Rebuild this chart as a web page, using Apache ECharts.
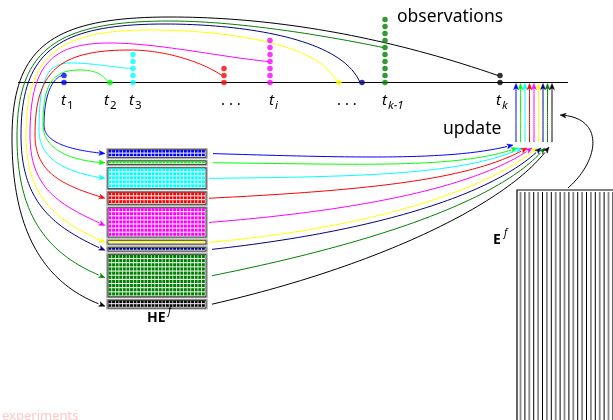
<!DOCTYPE html>
<html><head><meta charset="utf-8">
<script src="https://cdn.jsdelivr.net/npm/echarts@6/dist/echarts.min.js"></script>
<style>html,body{margin:0;padding:0;background:#fff}#c{width:613px;height:420px}</style>
</head><body><div id="c"></div>
<script>
// ---------------- data ----------------
const obsColors = ['#0000ff','#00ff00','#00ffff','#ff0000','#ff00ff','#ffff00','#000080','#008000','#000000'];
const obsTime   = [64, 110, 133, 224, 270, 339, 362, 385, 500];   // position on the time line
const obsCount  = [2, 1, 5, 3, 7, 1, 1, 10, 2];                    // observations per time
const obsLink   = [1, 0, 2, 1, 3, 0, 0, 5, 1];                     // observation the link starts from
const tickMain  = ['t','t','t','. . .','t','. . .','t','t'];
const tickSub   = ['1','2','3','','i','','k\u22121','k'];
const tickPos   = [61, 104, 129, 221, 269, 337, 382, 496];
const ensembleMembers = 22;

// ---------------- layout ----------------
const FONT = '"Noto Sans", "DejaVu Sans", sans-serif';
const LY = {
  axisY: 82.5, axisX0: 18, axisX1: 568, dotGap: 7, dotSize: 5.5,
  loopTop:  [null,[80,70],[70,63],[130,50],[110,43],[150,30],[165,24],[170,21],[170,17]],
  loopLeft: [[44,125],[43,125],[39,130],[35,135],[30,135],[26,135],[21,135],[17,137],[12,138]],
  seg1: [null,[0.2,0.8,0.4],[0.3,0.2,0.4],[0.25,0.6,0.35],[0.3,0.25,0.3],[0.1,0.8,0.35],[0.1,0.8,0.35],[0.3,0.5,0.3],[0.36,0.7,0.3]],
  endSlope: [0.1,0.05,0.15,0.3,0.45,0.45,0.45,0.4,0.35],
  blockX: 107, blockW: 100, blockY: 149, rowH: 4.3, blockPad: 0.6, blockGap: 2.1,
  tipDy: [0,0,0,0,3,0,1,2,2],
  startGap: [6,6,2,2,2,2,5,5,5],
  rightTips: [[513,145],[517,148],[522,148],[527,148],[532,148],[537,148],[541,148],[545,148],[549,147]],
  rightS0: [0.03,0.01,-0.01,-0.05,-0.08,-0.09,-0.11,-0.2,-0.23],
  rightEnd: [-15,-20,-25,-30,-35,-40,-45,-50,-55],
  updX0: 516, updDx: 4.5, updBottom: 142, updTop: 83.5,
  eX: 517, eY: 190, eDx: 4.4
};

function bez(p0,p1,p2,p3,n){
  const out=[];
  for(let i=0;i<=n;i++){const t=i/n,u=1-t;
    out.push([u*u*u*p0[0]+3*u*u*t*p1[0]+3*u*t*t*p2[0]+t*t*t*p3[0],
              u*u*u*p0[1]+3*u*u*t*p1[1]+3*u*t*t*p2[1]+t*t*t*p3[1]]);}
  return out;
}
// block geometry
const blocks=[]; {let y=LY.blockY;
  obsCount.forEach((c,k)=>{const h=c*LY.rowH+LY.blockPad; blocks.push({y:y,h:h,mid:y+h/2}); y+=h+LY.blockGap;});}

function loopPath(k){
  const dy = LY.axisY - obsLink[k]*LY.dotGap;
  const S=[obsTime[k]-2, dy];
  const Lp=LY.loopLeft[k];
  const E=[LY.blockX-2, blocks[k].mid+LY.tipDy[k]];
  let pts=[];
  if(LY.loopTop[k]){
    const T=LY.loopTop[k], s=LY.seg1[k];
    pts=pts.concat(bez(S,[S[0]-s[0]*(S[0]-T[0]), S[1]-s[1]*(S[1]-T[1])],[T[0]+s[2]*(S[0]-T[0]),T[1]],T,40));
    const kk=0.75;
    pts=pts.concat(bez(T,[T[0]-kk*(T[0]-Lp[0]),T[1]],[Lp[0],Lp[1]-kk*(Lp[1]-T[1])],Lp,40).slice(1));
  } else {
    pts=pts.concat(bez(S,[S[0]-12,S[1]+4],[Lp[0],Lp[1]-25],Lp,30));
  }
  const dx=E[0]-Lp[0];
  pts=pts.concat(bez(Lp,[Lp[0],Lp[1]+0.6*(E[1]-Lp[1])],[E[0]-0.6*dx,E[1]-0.6*dx*LY.endSlope[k]],E,50).slice(1));
  return pts;
}
function rightPath(k){
  const S=[LY.blockX+LY.blockW+LY.startGap[k], blocks[k].mid];
  const E=LY.rightTips[k]; const dx=E[0]-S[0];
  const a=LY.rightEnd[k]*Math.PI/180;
  return bez(S,[S[0]+0.5*dx,S[1]+LY.rightS0[k]*0.5*dx],[E[0]-0.2*dx*Math.cos(a),E[1]-0.2*dx*Math.sin(a)],E,60);
}
function arrowHead(tip,from,col,len,w){
  len=len||6; w=w||2.4;
  let dx=tip[0]-from[0], dy=tip[1]-from[1]; const d=Math.hypot(dx,dy)||1; dx/=d; dy/=d;
  const bx=tip[0]-dx*len, by=tip[1]-dy*len, px=-dy, py=dx;
  return {type:'polygon', shape:{points:[tip,[bx+px*w,by+py*w],[tip[0]-dx*len*0.75,tip[1]-dy*len*0.75],[bx-px*w,by-py*w]]},
          style:{fill:col, stroke:col, lineWidth:0.5}};
}
function curveGroup(pts,col,api){
  const P=pts.map(p=>api.coord(p)); const n=P.length;
  return {type:'group', children:[
    {type:'polyline', shape:{points:P.slice(0,n-2)}, style:{stroke:col, lineWidth:1, fill:'none'}},
    arrowHead(P[n-1], P[n-4], col)]};
}
function straight(a,b,n){const o=[];for(let i=0;i<=n;i++){const t=i/n;o.push([a[0]+(b[0]-a[0])*t,a[1]+(b[1]-a[1])*t]);}return o;}

const dotData=[];
obsTime.forEach((t,k)=>{for(let j=0;j<obsCount[k];j++) dotData.push({value:[t, LY.axisY-j*LY.dotGap], itemStyle:{color:obsColors[k]}});});

const idx = obsColors.map((c,i)=>i);

const texts=[
  {t:'observations', x:397, y:17, s:17.5},
  {t:'update', x:443, y:129, s:17.5},
  {t:'HE', x:147, y:318, s:14, w:'bold'},
  {t:'f', x:168, y:311, s:10, i:true},
  {t:'E', x:493, y:240, s:14, w:'bold'},
  {t:'f', x:504, y:233, s:10, i:true},
  {t:'experiments', x:2, y:416, s:13, c:'#ffc8c8'}
];
tickMain.forEach((m,i)=>{texts.push({t:m, x:tickPos[i], y:101, s:15, i:m==='t'});
  if(tickSub[i]) texts.push({t:tickSub[i], x:tickPos[i]+6, y:105.5, s:11.5, i:/[a-z]/.test(tickSub[i][0])});});

const option={
  animation:false,
  grid:{left:0,right:0,top:0,bottom:0},
  xAxis:{type:'value',min:0,max:613,show:false},
  yAxis:{type:'value',min:0,max:420,inverse:true,show:false},
  series:[
    {type:'custom', data:[0], z:1, renderItem:(p,api)=>({type:'line',
      shape:(()=>{const a=api.coord([LY.axisX0,LY.axisY]),b=api.coord([LY.axisX1,LY.axisY]);return {x1:a[0],y1:a[1],x2:b[0],y2:b[1]};})(),
      style:{stroke:'#000',lineWidth:1}})},
    // HE blocks
    {type:'custom', data:idx, z:2, renderItem:(p,api)=>{
      const k=p.dataIndex, b=blocks[k];
      const a=api.coord([LY.blockX,b.y]), c=api.coord([LY.blockX+LY.blockW,b.y+b.h]);
      const ch=[{type:'rect',shape:{x:a[0],y:a[1],width:c[0]-a[0],height:c[1]-a[1]},style:{fill:'#fff',stroke:'#999',lineWidth:1.3}},
                {type:'rect',shape:{x:a[0]+1,y:a[1]+0.8,width:c[0]-a[0]-2,height:c[1]-a[1]-1.6},style:{fill:'none',stroke:'#000',lineWidth:0.7}}];
      const cols=27, cw=(c[0]-a[0]-3)/cols, rh=(c[1]-a[1]-2)/obsCount[k];
      for(let r=0;r<obsCount[k];r++) for(let j=0;j<cols;j++)
        ch.push({type:'rect',shape:{x:a[0]+1.5+j*cw,y:a[1]+1+r*rh,width:cw-0.7,height:rh-1.0},style:{fill:obsColors[k]}});
      return {type:'group',children:ch};}},
    // loop arrows
    {type:'custom', data:idx, z:3, renderItem:(p,api)=>curveGroup(loopPath(p.dataIndex), obsColors[p.dataIndex], api)},
    // right arrows
    {type:'custom', data:idx, z:3, renderItem:(p,api)=>curveGroup(rightPath(p.dataIndex), obsColors[p.dataIndex], api)},
    // update arrows
    {type:'custom', data:idx, z:3, renderItem:(p,api)=>{
      const x=LY.updX0+p.dataIndex*LY.updDx;
      return curveGroup(straight([x,LY.updBottom],[x,LY.updTop],30), obsColors[p.dataIndex], api);}},
    // E block
    {type:'custom', data:[0], z:2, renderItem:(p,api)=>{
      const a=api.coord([LY.eX,LY.eY]), r=api.coord([613,420]);
      const ch=[{type:'polyline',shape:{points:[[a[0],r[1]],[a[0],a[1]],[r[0],a[1]]]},style:{stroke:'#000',lineWidth:1.2,fill:'none'}}];
      for(let i=0;i<ensembleMembers;i++){const x=a[0]+3.5+i*LY.eDx;
        ch.push({type:'line',shape:{x1:x,y1:a[1]+2,x2:x,y2:r[1]},style:{stroke:i%2?'#000':'#888',lineWidth:i%2?1:1.8}});}
      return {type:'group',children:ch};}},
    // E -> update arrow
    {type:'custom', data:[0], z:3, renderItem:(p,api)=>curveGroup(bez([568,188],[600,160],[605,117],[560,115],50),'#000',api)},
    // observation dots
    {type:'scatter', data:dotData, symbolSize:LY.dotSize, z:4, silent:true},
    // texts
    {type:'custom', data:texts.map((t,i)=>i), z:5, renderItem:(p,api)=>{
      const t=texts[p.dataIndex], q=api.coord([t.x,t.y]);
      return {type:'text', x:q[0], y:q[1], style:{text:t.t, fill:t.c||'#000', fontSize:t.s, fontFamily:FONT,
        fontWeight:t.w||'normal', fontStyle:t.i?'italic':'normal', align:'left', verticalAlign:'middle'}};}}
  ]
};
const chart=echarts.init(document.getElementById('c'));
chart.setOption(option);
</script></body></html>
